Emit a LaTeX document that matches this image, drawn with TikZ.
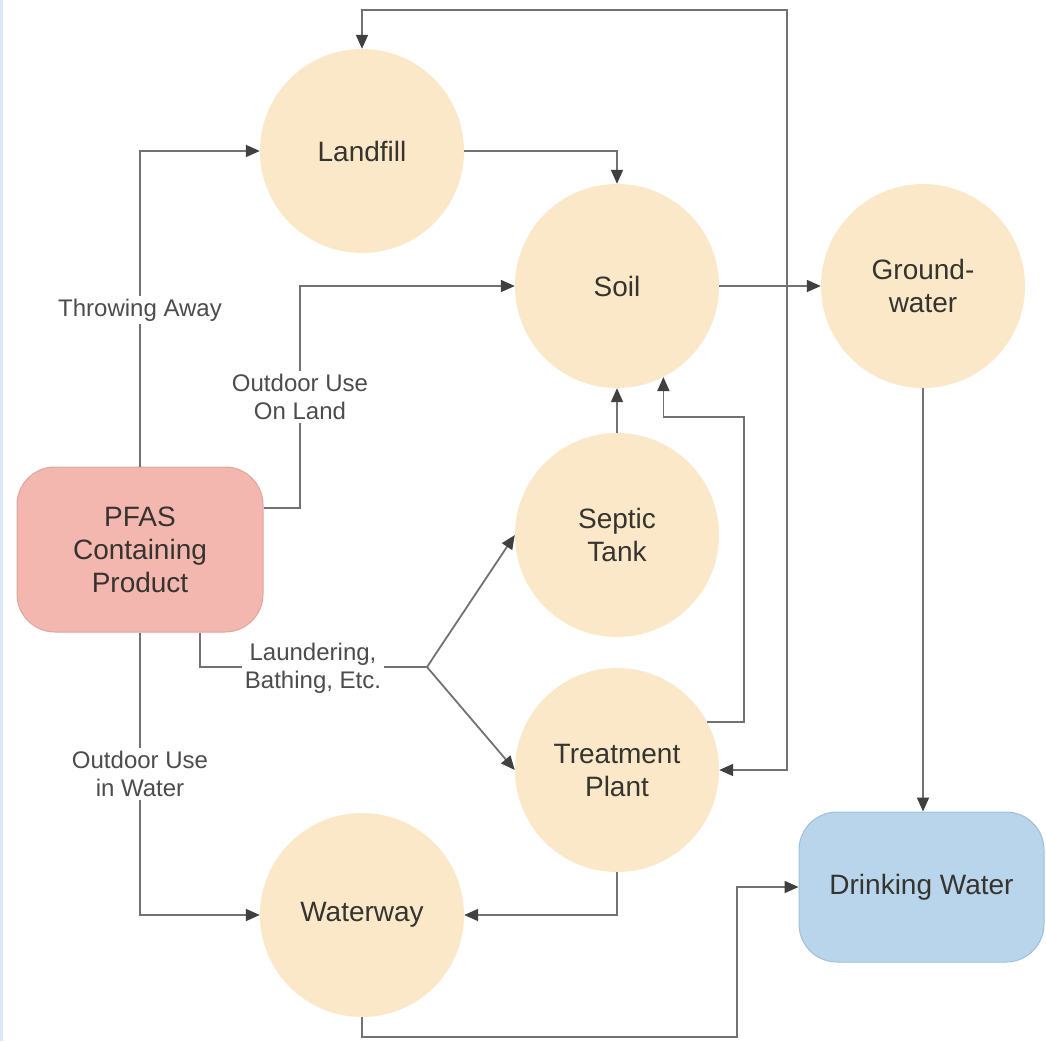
\documentclass[tikz,border=0pt]{standalone}
\usepackage{fontspec}
\setmainfont{Liberation Sans}
\usetikzlibrary{arrows.meta}
\definecolor{circfill}{HTML}{FBE8C8}
\definecolor{pfasfill}{HTML}{F3B7AF}
\definecolor{pfasdraw}{HTML}{DDA59E}
\definecolor{dwfill}{HTML}{B8D5EC}
\definecolor{dwdraw}{HTML}{9FBFDA}
\definecolor{linegray}{HTML}{727272}
\definecolor{tipgray}{HTML}{404040}
\definecolor{txt}{HTML}{36342F}
\definecolor{lbl}{HTML}{4C4C4C}
\definecolor{edgeblue}{HTML}{DCE8F8}
\tikzset{
  tipshape/.tip={Triangle[length=14pt,width=12pt,color=tipgray]},
  place/.style={circle, fill=circfill, minimum size=204pt, inner sep=0pt, text=txt,
    align=center, font=\fontsize{28}{33}\selectfont},
  endbox/.style={rounded corners=38pt, inner sep=0pt, text=txt, align=center,
    font=\fontsize{28}{33}\selectfont, line width=1pt},
  conn/.style={draw=linegray, line width=1.8pt, -tipshape},
  both/.style={draw=linegray, line width=1.8pt, tipshape-tipshape},
  plain/.style={draw=linegray, line width=1.8pt},
  lab/.style={fill=white, inner sep=3pt, text=lbl, align=center, font=\fontsize{24}{28}\selectfont}
}
\begin{document}
\begin{tikzpicture}[x=1pt,y=-1pt]
\useasboundingbox (0,0) rectangle (1046,1041);
\fill[white] (0,0) rectangle (1046,1041);
\fill[edgeblue] (0,0) rectangle (2.5,1041);

% nodes
\node[place] (lf) at (362,151) {Landfill};
\node[place] (soil) at (617,286) {Soil};
\node[place] (gw) at (923,286) {Ground-\\water};
\node[place] (st) at (617,535) {Septic\\Tank};
\node[place] (tp) at (617,770) {Treatment\\Plant};
\node[place] (ww) at (362,915) {Waterway};
\node[endbox, fill=pfasfill, draw=pfasdraw, minimum width=246pt, minimum height=165pt] (pf) at (140,549.5) {PFAS\\Containing\\Product};
\node[endbox, fill=dwfill, draw=dwdraw, minimum width=245pt, minimum height=150pt] (dw) at (921.5,887) {Drinking Water};

% connectors
\draw[conn] (pf.north) |- (lf.west);
\draw[conn] ([yshift=41.5pt]pf.east) -| (300,286) -- (soil.west);
\draw[conn] (pf.south) |- (ww.west);
\draw[plain] ([xshift=60pt]pf.south) |- (427,667) coordinate (j);
\draw[conn] (j) -- (st.west);
\draw[conn] (j) -- (tp.west);

\draw[conn] (lf.east) -| (soil.north);
\draw[conn] (st.north) -- (soil.south);
\draw[conn] (tp.28) -| (744,417) -| (soil.-63);
\draw[conn] (tp.south) |- (ww.east);
\draw[conn] (soil.east) -- (gw.west);
\draw[conn] (gw.south) -- (gw.south |- dw.north);
\draw[conn] (ww.south) |- (737,1037) |- (dw.west);
\draw[both] (lf.north) |- (787,10) |- (tp.east);

% labels
\node[lab] (l1) at (140,310) {Throwing Away};
\node[lab] (l2) at (300,397) {Outdoor Use\\On Land};
\node[lab] (l3) at (313,668) {Laundering,\\Bathing, Etc.};
\node[lab] (l4) at (140,774) {Outdoor Use\\in Water};
\end{tikzpicture}
\end{document}
